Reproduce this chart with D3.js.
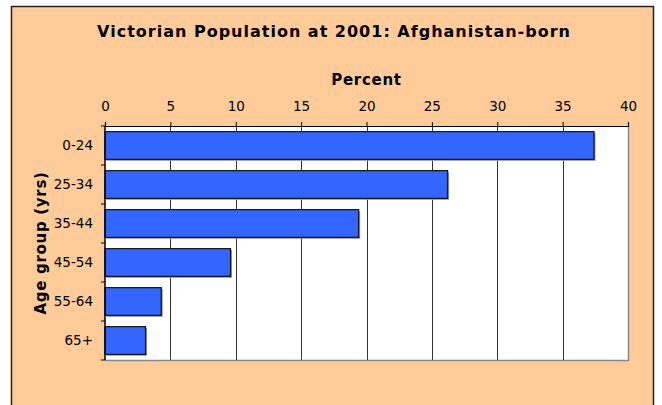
<!DOCTYPE html>
<html>
<head>
<meta charset="utf-8">
<script src="https://cdn.jsdelivr.net/npm/d3@7"></script>
<style>
  html, body { margin: 0; padding: 0; background: #ffffff; }
  svg { display: block; }
  text { font-family: "DejaVu Sans", Verdana, sans-serif; fill: #000; }
</style>
</head>
<body>
<svg id="chart" width="662" height="405"></svg>
<script>
const categories = ["0-24", "25-34", "35-44", "45-54", "55-64", "65+"];
const values = [37.4, 26.2, 19.4, 9.6, 4.3, 3.1];
const xTicks = [0, 5, 10, 15, 20, 25, 30, 35, 40];
const title = "Victorian Population at 2001: Afghanistan-born";
const xTitle = "Percent";
const yTitle = "Age group (yrs)";

const svg = d3.select("#chart");

// Outer frame
svg.append("rect")
  .attr("x", 11.5).attr("y", 6.5)
  .attr("width", 642).attr("height", 420)
  .attr("fill", "#FFCC99")
  .attr("stroke", "#222").attr("stroke-width", 1.5);

const plot = { left: 105, right: 628, top: 126, bottom: 360 };

const x = d3.scaleLinear().domain([0, 40]).range([plot.left, plot.right]);
const y = d3.scaleBand().domain(categories)
  .range([plot.top, plot.bottom])
  .paddingInner(0.29).paddingOuter(0.145);

// Plot background
svg.append("rect")
  .attr("x", plot.left).attr("y", plot.top)
  .attr("width", plot.right - plot.left).attr("height", plot.bottom - plot.top)
  .attr("fill", "#ffffff");

// Gridlines
svg.append("g").selectAll("line")
  .data(xTicks.filter(d => d > 0 && d < 40))
  .join("line")
  .attr("x1", d => Math.round(x(d)) + 0.5).attr("x2", d => Math.round(x(d)) + 0.5)
  .attr("y1", plot.top).attr("y2", plot.bottom)
  .attr("stroke", "#333").attr("stroke-width", 1);

// Plot border right/bottom (gray)
svg.append("path")
  .attr("d", `M${plot.right + 0.5},${plot.top}V${plot.bottom + 0.5}H${plot.left}`)
  .attr("fill", "none").attr("stroke", "#888").attr("stroke-width", 1.5);

// Bar shadows
svg.append("g").selectAll("rect")
  .data(values)
  .join("rect")
  .attr("x", x(0) + 1.5)
  .attr("y", (d, i) => y(categories[i]) + 1.5)
  .attr("width", d => x(d) - x(0))
  .attr("height", y.bandwidth())
  .attr("fill", "#999");

// Bars
svg.append("g").selectAll("rect")
  .data(values)
  .join("rect")
  .attr("x", x(0))
  .attr("y", (d, i) => y(categories[i]))
  .attr("width", d => x(d) - x(0))
  .attr("height", y.bandwidth())
  .attr("fill", "#3366FF")
  .attr("stroke", "#111").attr("stroke-width", 1.2);

// Top axis
const xAxis = d3.axisTop(x).tickValues(xTicks).tickSize(4).tickPadding(11).tickFormat(d3.format("d"));
const gx = svg.append("g").attr("transform", `translate(0,${plot.top})`).call(xAxis);
gx.select(".domain").attr("stroke", "#000").attr("stroke-width", 1.2);
gx.selectAll(".tick line").attr("stroke", "#000");
gx.selectAll("text").attr("font-size", 13.5).attr("font-family", "DejaVu Sans, Verdana, sans-serif").attr("fill", "#000");

// Left axis with ticks at band boundaries
const yAxisG = svg.append("g");
yAxisG.append("line")
  .attr("x1", plot.left).attr("x2", plot.left)
  .attr("y1", plot.top).attr("y2", plot.bottom)
  .attr("stroke", "#000").attr("stroke-width", 1.5);
const boundaries = d3.range(categories.length + 1).map(i => plot.top + i * (plot.bottom - plot.top) / categories.length);
yAxisG.selectAll("line.tk").data(boundaries).join("line")
  .attr("class", "tk")
  .attr("x1", plot.left - 4).attr("x2", plot.left)
  .attr("y1", d => d).attr("y2", d => d)
  .attr("stroke", "#000");
yAxisG.selectAll("text").data(categories).join("text")
  .attr("x", plot.left - 12)
  .attr("y", d => y(d) + y.bandwidth() / 2)
  .attr("dy", "0.35em")
  .attr("text-anchor", "end")
  .attr("font-size", 13.5)
  .text(d => d);

// Titles
svg.append("text")
  .attr("x", 334).attr("y", 37)
  .attr("text-anchor", "middle")
  .attr("font-size", 16).attr("font-weight", "bold")
  .attr("letter-spacing", 1)
  .text(title);

svg.append("text")
  .attr("x", (plot.left + plot.right) / 2).attr("y", 85)
  .attr("text-anchor", "middle")
  .attr("font-size", 15).attr("font-weight", "bold")
  .attr("letter-spacing", 0.7)
  .text(xTitle);

svg.append("text")
  .attr("transform", `translate(46,${(plot.top + plot.bottom) / 2}) rotate(-90)`)
  .attr("text-anchor", "middle")
  .attr("font-size", 15).attr("font-weight", "bold")
  .attr("letter-spacing", 0.7)
  .text(yTitle);
</script>
</body>
</html>
